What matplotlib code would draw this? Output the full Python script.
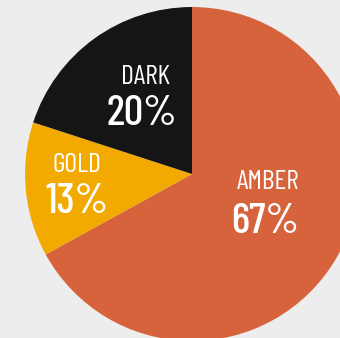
import matplotlib
matplotlib.use('agg')
import matplotlib.pyplot as plt

labels = ['AMBER', 'GOLD', 'DARK']
shares = [67, 13, 20]
colors = ['#D6633C', '#F2AA00', '#151515']

face = ['Barlow Condensed', 'DejaVu Sans']

fig = plt.figure(figsize=(3.4, 3.38), dpi=100, facecolor='#EDEDED')
ax = fig.add_axes([0, 0, 1, 1])
ax.set_facecolor('#EDEDED')

ax.pie(shares, colors=colors, startangle=90, counterclock=False, radius=1,
       wedgeprops=dict(linewidth=0))

# label spots, in pie radii from the centre
name_pos = {'AMBER': (0.455, -0.045), 'GOLD': (-0.69, 0.055), 'DARK': (-0.28, 0.58)}
pct_pos = {'AMBER': (0.44, -0.29), 'GOLD': (-0.69, -0.17), 'DARK': (-0.30, 0.36)}

for lab, val in zip(labels, shares):
    x, y = name_pos[lab]
    ax.text(x, y, lab, ha='center', va='center', color='white',
            fontsize=20, family=face, fontweight='normal')
    x, y = pct_pos[lab]
    ax.text(x, y, f'{val}%', ha='center', va='center', color='white',
            fontsize=31, family=face, fontweight='medium')

ax.set_xlim(-1.150, 0.886)
ax.set_ylim(-0.982, 1.042)
ax.axis('off')

fig.savefig('out.png', dpi=100, facecolor=fig.get_facecolor())
